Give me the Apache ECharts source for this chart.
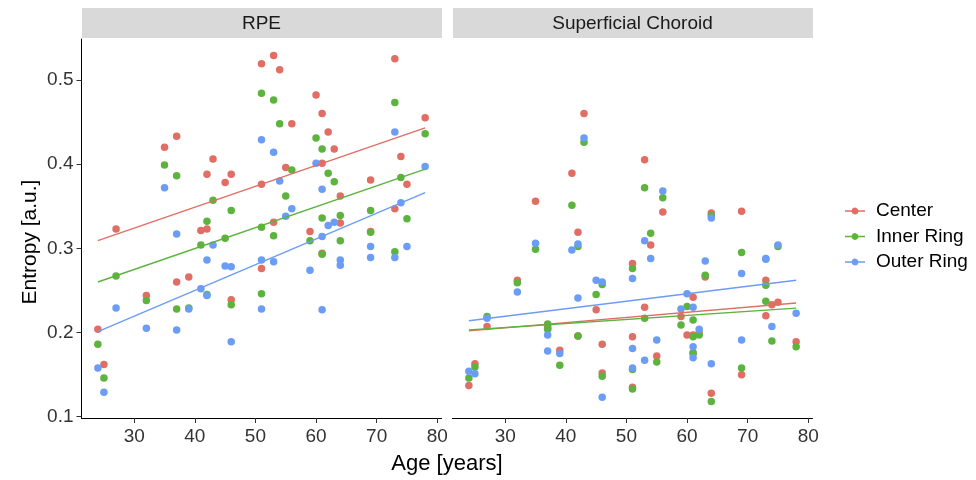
<!DOCTYPE html>
<html><head><meta charset="utf-8">
<script src="https://cdn.jsdelivr.net/npm/echarts@6/dist/echarts.min.js"></script>
<style>html,body{margin:0;padding:0;background:#fff}#c{width:976px;height:480px}</style>
</head><body><div id="c"></div>
<script>
// ---- data ----
const ages = [24,25,27,32,35,37,37,39,41,42,42,43,45,46,46,51,51,51,53,53,54,55,56,59,60,61,61,61,62,63,64,64,69,69,73,73,74,75,78];

const rpeCenter = [.204,.162,.323,.244,.420,.433,.260,.266,.321,.388,.323,.406,.378,.388,.239,.519,.376,.276,.529,.331,.512,.396,.448,.320,.482,.460,.401,.294,.438,.418,.362,.330,.381,.320,.525,.347,.409,.376,.455];
const rpeInner  = [.186,.146,.267,.238,.399,.386,.228,.229,.304,.332,.245,.357,.312,.345,.233,.484,.325,.246,.476,.315,.448,.362,.393,.309,.431,.418,.336,.293,.389,.379,.339,.309,.345,.319,.473,.296,.384,.335,.436];
const rpeOuter  = [.158,.129,.229,.205,.372,.317,.203,.228,.252,.286,.244,.304,.279,.278,.189,.429,.286,.228,.414,.284,.380,.338,.347,.274,.401,.370,.314,.227,.327,.331,.286,.280,.302,.289,.438,.289,.354,.302,.397];

const chCenter = [.137,.163,.207,.262,.356,.207,.205,.179,.389,.319,.196,.460,.227,.186,.152,.282,.195,.135,.405,.230,.304,.172,.343,.219,.197,.242,.197,.175,.199,.266,.342,.128,.344,.150,.262,.220,.233,.236,.189];
const chInner  = [.146,.159,.219,.259,.299,.210,.204,.161,.351,.302,.196,.426,.245,.257,.148,.276,.156,.133,.372,.217,.318,.165,.360,.209,.231,.215,.195,.176,.197,.268,.339,.118,.295,.158,.256,.237,.190,.302,.183];
const chOuter  = [.154,.151,.217,.248,.306,.197,.178,.175,.298,.305,.241,.431,.262,.260,.123,.264,.181,.158,.309,.167,.288,.191,.368,.228,.246,.230,.183,.170,.204,.285,.336,.163,.270,.191,.288,.287,.207,.304,.223];

// fitted trend lines (end points)
const fitAges = [24, 78];
const rpeFitCenter = [0.309, 0.443];
const rpeFitInner  = [0.260, 0.394];
const rpeFitOuter  = [0.201, 0.366];
const chFitCenter  = [0.202, 0.235];
const chFitInner   = [0.203, 0.229];
const chFitOuter   = [0.214, 0.262];

const xTicks = [30,40,50,60,70,80];
const yTicks = [0.1,0.2,0.3,0.4,0.5];
const panelTitles = ['RPE','Superficial Choroid'];
const seriesNames = ['Center','Inner Ring','Outer Ring'];
const colors = ['#e16e64','#5cb33d','#6b9cf6'];

// ---- layout ----
const FONT = 'Liberation Sans, Arial, sans-serif';
const grids = [
  {left: 81.5, top: 39, width: 360, height: 379},
  {left: 452.5, top: 39, width: 360, height: 379}
];
const X_MIN = 21.3, X_MAX = 80.7, Y_MIN = 0.0985, Y_MAX = 0.5485;

const pointSets = [[rpeCenter, rpeInner, rpeOuter],[chCenter, chInner, chOuter]];
const fitSets = [[rpeFitCenter, rpeFitInner, rpeFitOuter],[chFitCenter, chFitInner, chFitOuter]];

const xAxes = grids.map((g,i)=>({
  type:'value', gridIndex:i, min:X_MIN, max:X_MAX,
  axisLine:{show:true, onZero:false, lineStyle:{color:'#000', width:1}},
  axisTick:{show:true, length:5, lineStyle:{color:'#333', width:1}, customValues:xTicks},
  axisLabel:{show:true, customValues:xTicks, color:'#333', fontSize:19, fontFamily:FONT, margin:9},
  splitLine:{show:false}
}));
const yAxes = grids.map((g,i)=>({
  type:'value', gridIndex:i, min:Y_MIN, max:Y_MAX,
  axisLine:{show:i===0, onZero:false, lineStyle:{color:'#000', width:1}},
  axisTick:{show:i===0, length:5, lineStyle:{color:'#333', width:1}, customValues:yTicks},
  axisLabel:{show:i===0, customValues:yTicks, color:'#333', fontSize:19, fontFamily:FONT, margin:8,
    formatter:v=>Number(v).toFixed(1)},
  splitLine:{show:false}
}));

const series = [];
for (let p=0;p<2;p++){
  for (let s=0;s<3;s++){
    series.push({
      type:'scatter', name:seriesNames[s], xAxisIndex:p, yAxisIndex:p,
      data: ages.map((a,i)=>[a, pointSets[p][s][i]]),
      symbol:'circle', symbolSize:7.5, color:colors[s],
      itemStyle:{color:colors[s], opacity:1}, z:2+s, silent:true, animation:false
    });
  }
  for (let s=0;s<3;s++){
    series.push({
      type:'line', name:seriesNames[s], xAxisIndex:p, yAxisIndex:p,
      data: fitAges.map((a,i)=>[a, fitSets[p][s][i]]),
      symbol:'none', showSymbol:false, color:colors[s],
      lineStyle:{color:colors[s], width:1.4}, z:10, silent:true, animation:false
    });
  }
}

const legendIcon = 'path://M0,2.8 L6.6,2.8 A3.5,3.5 0 0 1 13.4,2.8 L20,2.8 L20,4.2 L13.4,4.2 A3.5,3.5 0 0 1 6.6,4.2 L0,4.2 Z';

const graphic = [];
grids.forEach((g,i)=>{
  graphic.push({type:'rect', left:g.left+0.5, top:8, shape:{width:g.width, height:30}, style:{fill:'#d9d9d9'}, silent:true});
  graphic.push({type:'text', x:g.left+g.width/2, y:23.5, style:{text:panelTitles[i], fill:'#1a1a1a', font:'19px '+FONT, align:'center', verticalAlign:'middle'}, silent:true});
});
graphic.push({type:'text', x:447, y:464, style:{text:'Age [years]', fill:'#000', font:'22px '+FONT, align:'center', verticalAlign:'middle'}, silent:true});
graphic.push({type:'text', x:30, y:242, rotation:Math.PI/2, style:{text:'Entropy [a.u.]', fill:'#000', font:'21px '+FONT, align:'center', verticalAlign:'middle'}, silent:true});

const chart = echarts.init(document.getElementById('c'), null, {renderer:'canvas'});
chart.setOption({
  animation:false,
  backgroundColor:'#fff',
  grid: grids,
  xAxis: xAxes,
  yAxis: yAxes,
  legend:{
    orient:'vertical', left:840, top:196, itemWidth:20, itemHeight:7, itemGap:5.5,
    data: seriesNames.map(n=>({name:n, icon:legendIcon})),
    textStyle:{fontSize:19, fontFamily:FONT, color:'#000', lineHeight:20, padding:[0,0,0,6]},
    selectedMode:false
  },
  series: series,
  graphic: graphic
});
</script>
</body></html>
